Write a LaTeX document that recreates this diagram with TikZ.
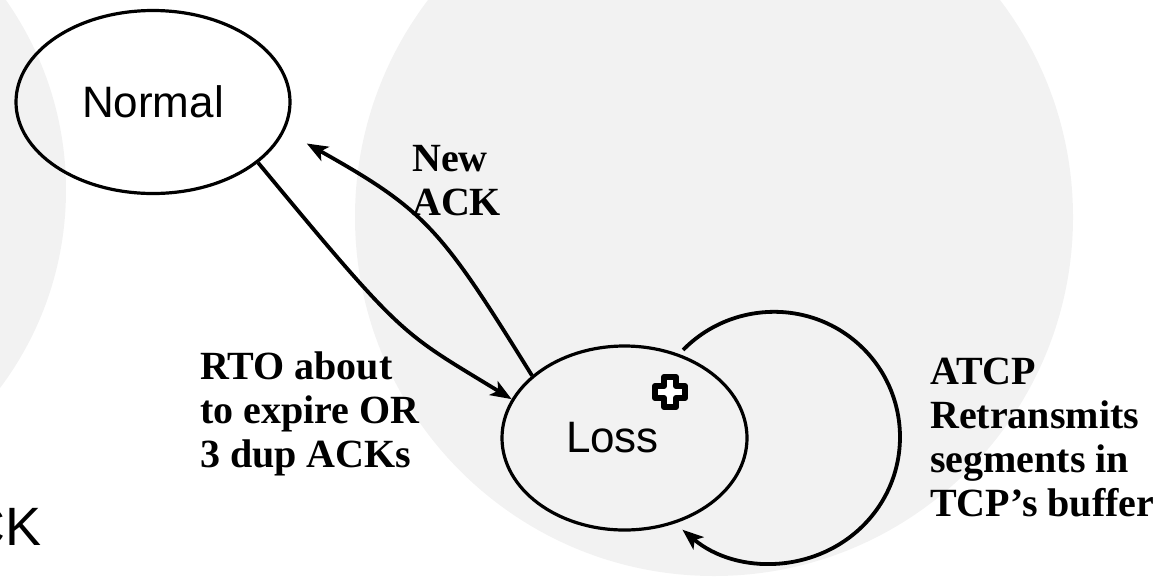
\documentclass[tikz,border=0pt]{standalone}
\usepackage{fontspec}
\setmainfont{Liberation Serif}
\setsansfont{Liberation Sans}
\usetikzlibrary{arrows.meta,shapes.geometric}
\definecolor{haze}{HTML}{F2F2F2}
\begin{document}
\begin{tikzpicture}[x=1pt,y=-1pt,
  state/.style={ellipse, draw, line width=3.2pt, inner sep=0pt,
    font=\sffamily\fontsize{44}{50}\selectfont},
  statelabel/.style={inner sep=0pt, font=\sffamily\fontsize{44}{50}\selectfont},
  flow/.style={line width=3.8pt, -{Stealth[length=21pt,width=16pt,inset=5pt]}},
  note/.style={font=\bfseries\fontsize{40}{44}\selectfont, align=left,
    inner sep=0pt, anchor=base west},
  backdisc/.style={fill=haze, draw=none},
  crossmark/.style={draw, fill=white, line width=6pt, line join=round}]
% frame of the picture
\path[use as bounding box, clip] (0,0) rectangle (1155,579);
% pale discs behind the diagram
\fill[backdisc] (-264,190) circle[radius=330];
\fill[backdisc] (714,217) circle[radius=359];
% leftover caption at the lower left
\node[font=\sffamily\fontsize{54}{60}\selectfont, inner sep=0pt, anchor=base east]
  (ackcut) at (42,545) {CK};
% states
\node[state, minimum width=274pt, minimum height=183pt] (normal) at (153,102) {Normal};
\node[state, minimum width=245pt, minimum height=184pt] (loss) at (624.5,438) {};
\node[statelabel] (losslabel) at (612.5,438) {Loss};
% marker inside the Loss state
\draw[crossmark, shift={(670,392)}]
  (-6,-15) -- (6,-15) -- (6,-6) -- (15,-6) -- (15,6) -- (6,6) -- (6,15)
  -- (-6,15) -- (-6,6) -- (-15,6) -- (-15,-6) -- (-6,-6) -- cycle;
% transitions
\draw[flow] (normal.-30) .. controls (405,340) and (400,331) .. (loss.161);
\draw[flow] (loss.146) .. controls (441,229) and (427,211) .. ([shift={(25,7)}]normal.-15);
\draw[flow] ([shift={(4,-4)}]loss.57)
  .. controls (730.7,301.3) and (809.7,298.5) .. (860.2,345.6)
  .. controls (910.7,392.7) and (913.5,471.7) .. (866.4,522.2)
  .. controls (818.1,574) and (736.7,575.5) .. ([shift={(5,7)}]loss.-58);
% transition labels (anchored at the baseline of the last line)
\node[note] (newack) at (412,215) {New\\ACK};
\node[note] (rto) at (200,467) {RTO about\\to expire OR\\3 dup ACKs};
\node[note] (atcp) at (930,516) {ATCP\\Retransmits\\segments in\\TCP’s buffer};
\end{tikzpicture}
\end{document}
